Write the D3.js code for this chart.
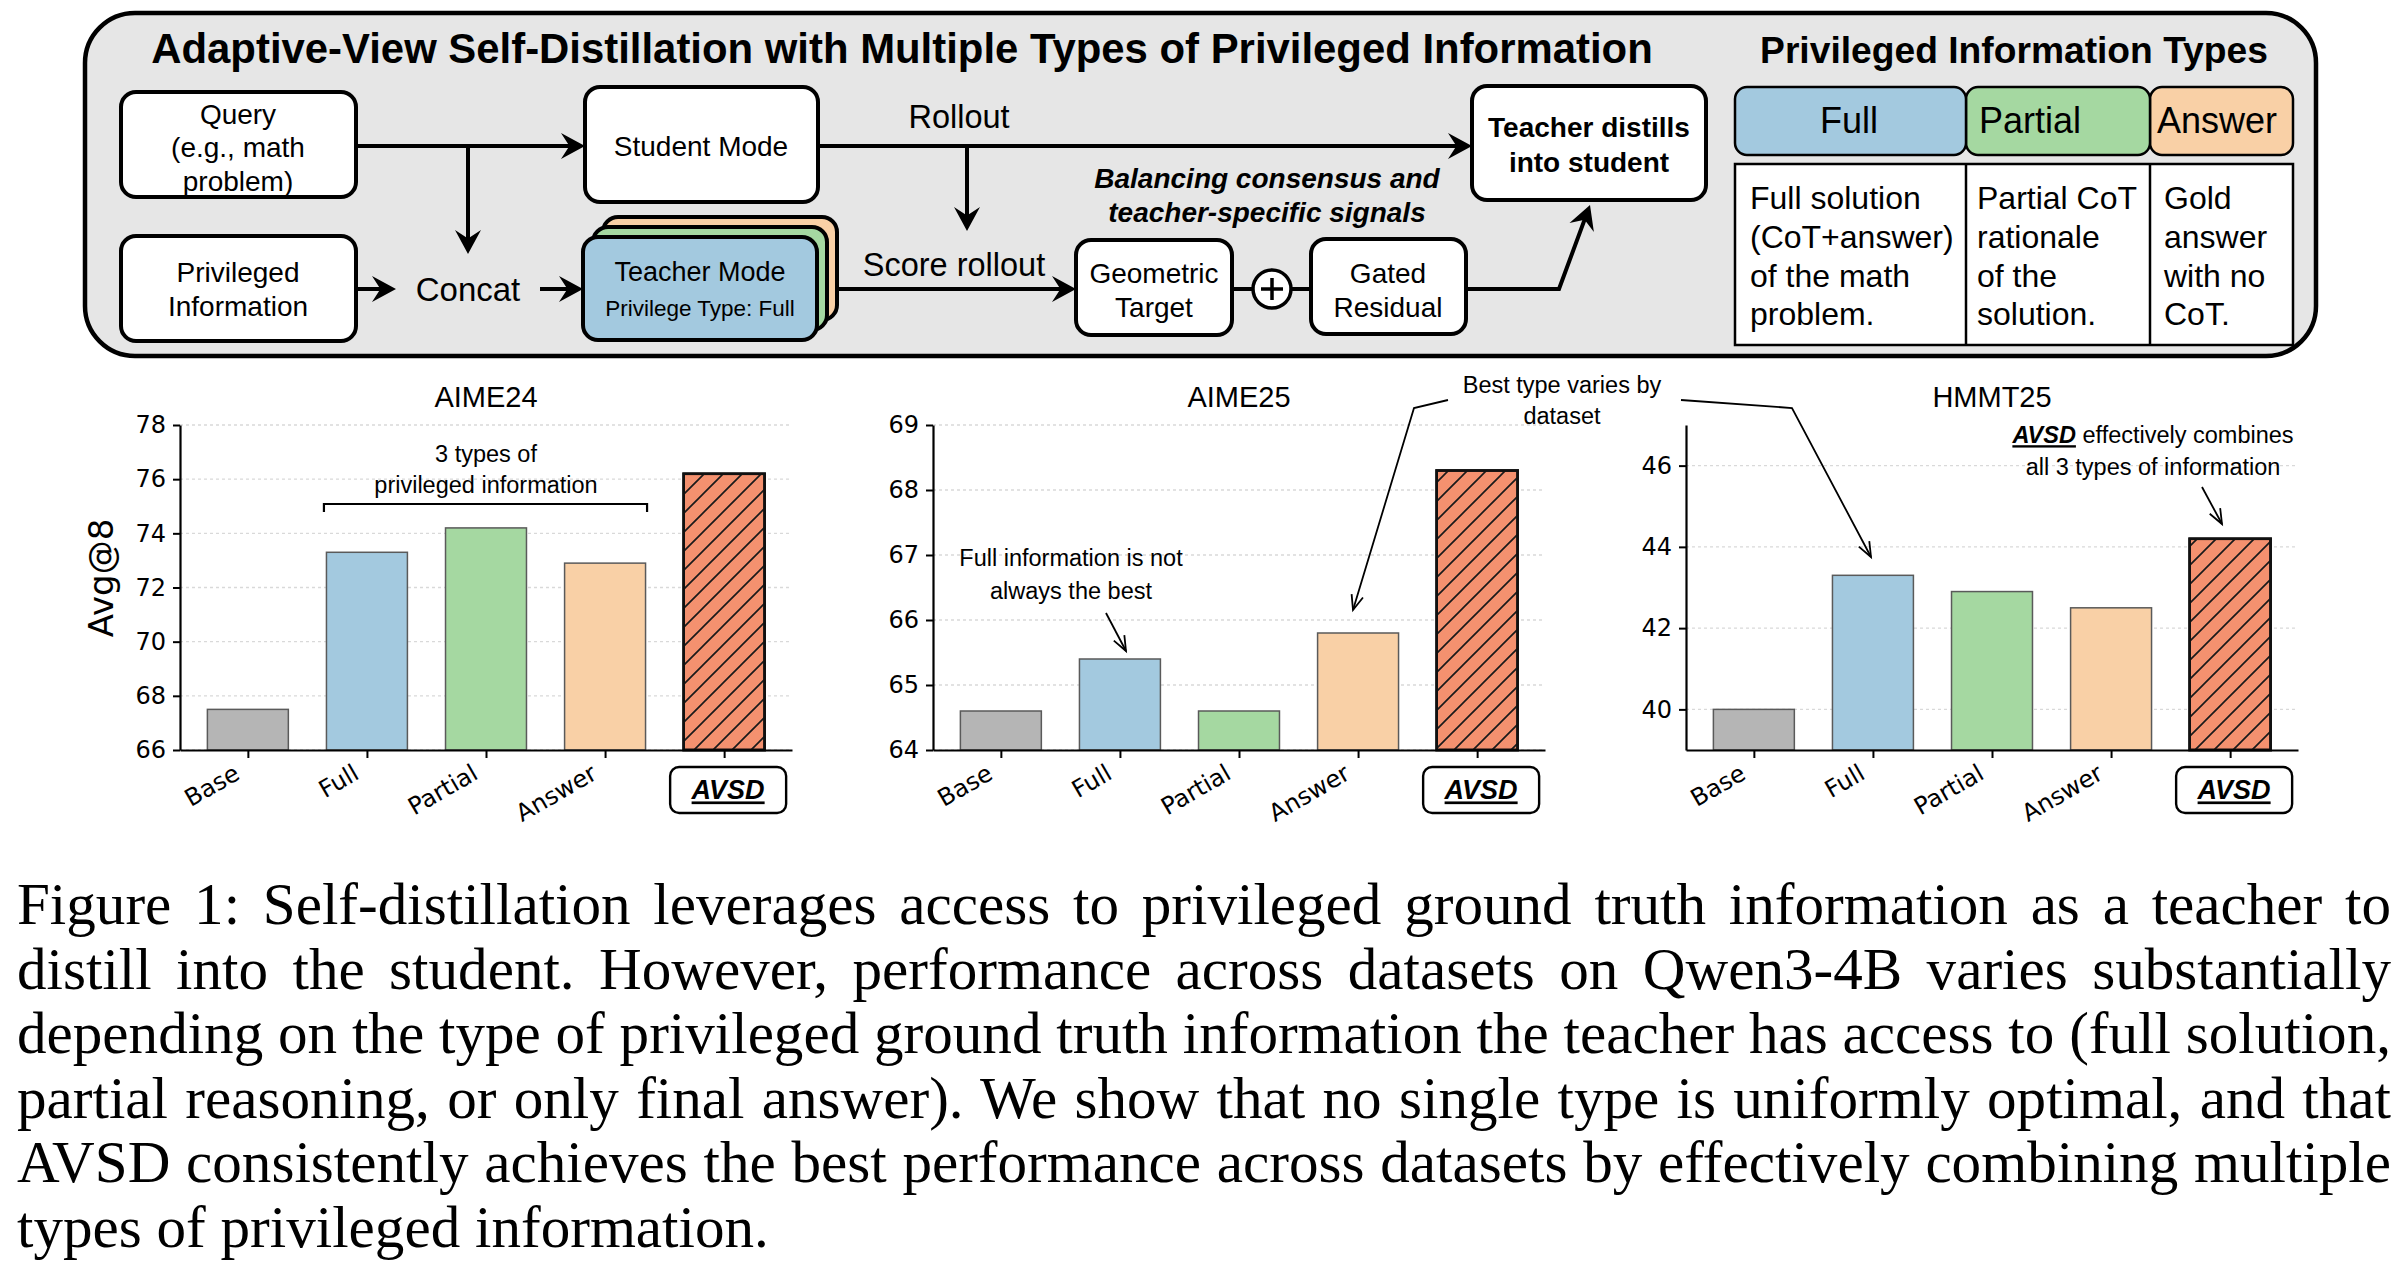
<!DOCTYPE html>
<html><head><meta charset="utf-8">
<script src="https://cdn.jsdelivr.net/npm/d3@7"></script>
<style>body{margin:0;background:#fff}svg{display:block}</style>
</head><body>
<svg id="fig" width="2406" height="1270"></svg>
<script>
// ---------------- DATA ----------------
const categories = ["Base", "Full", "Partial", "Answer", "AVSD"];
const datasets = ["AIME24", "AIME25", "HMMT25"];
const aime24 = [67.5, 73.3, 74.2, 72.9, 76.2];
const aime25 = [64.6, 65.4, 64.6, 65.8, 68.3];
const hmmt25 = [40.0, 43.3, 42.9, 42.5, 44.2];
const seriesValues = [aime24, aime25, hmmt25];
const yDomains = [[66, 78], [64, 69], [39, 47]];
const yTicks = [[66, 68, 70, 72, 74, 76, 78], [64, 65, 66, 67, 68, 69], [40, 42, 44, 46]];
const yLabel = "Avg@8";
const barColors = ["#b5b5b5", "#a3c9df", "#a5d8a1", "#f9d0a6", "#f4916f"];
const infoTypes = ["Full", "Partial", "Answer"];
const infoColors = ["#a3c9df", "#a5d8a1", "#f9d0a6"];
const infoDescriptions = [
  ["Full solution", "(CoT+answer)", "of the math", "problem."],
  ["Partial CoT", "rationale", "of the", "solution."],
  ["Gold", "answer", "with no", "CoT."]
];
const mainTitle = "Adaptive-View Self-Distillation with Multiple Types of Privileged Information";
const panelTitle = "Privileged Information Types";
const captionLines = [
  "Figure 1: Self-distillation leverages access to privileged ground truth information as a teacher to",
  "distill into the student. However, performance across datasets on Qwen3-4B varies substantially",
  "depending on the type of privileged ground truth information the teacher has access to (full solution,",
  "partial reasoning, or only final answer). We show that no single type is uniformly optimal, and that",
  "AVSD consistently achieves the best performance across datasets by effectively combining multiple",
  "types of privileged information."
];

// ---------------- SETUP ----------------
const SANS = "'Liberation Sans', Arial, Helvetica, sans-serif";
const DJV = "'DejaVu Sans', sans-serif";
const SERIF = "'Liberation Serif', 'Times New Roman', serif";
const svg = d3.select("#fig");
const defs = svg.append("defs");

const hp = defs.append("pattern").attr("id", "hatch").attr("patternUnits", "userSpaceOnUse")
  .attr("width", 19).attr("height", 19);
hp.append("path").attr("d", "M-5,5 L5,-5 M0,19 L19,0 M14,24 L24,14")
  .attr("stroke", "#1a1a1a").attr("stroke-width", 1.7).attr("fill", "none");

function fitWidth(sel, target) {
  const w = sel.node().getComputedTextLength();
  const fs = parseFloat(sel.attr("font-size"));
  sel.attr("font-size", fs * target / w);
}
function txt(g, x, y, s, size, opts = {}) {
  const t = g.append("text").attr("x", x).attr("y", y).attr("font-size", size)
    .attr("font-family", opts.family || SANS).attr("text-anchor", opts.anchor || "middle")
    .attr("dy", "0.35em").attr("fill", "#000").text(s);
  if (opts.weight) t.attr("font-weight", opts.weight);
  if (opts.style) t.attr("font-style", opts.style);
  return t;
}
function filledHead(g, x1, y1, x2, y2, len = 24, half = 13) {
  const a = Math.atan2(y2 - y1, x2 - x1);
  const bx = x2 - len * Math.cos(a), by = y2 - len * Math.sin(a);
  const nx = -Math.sin(a), ny = Math.cos(a);
  g.append("path").attr("d", `M${x2},${y2} L${bx + half * nx},${by + half * ny} L${bx + 0.35*len*Math.cos(a)},${by + 0.35*len*Math.sin(a)} L${bx - half * nx},${by - half * ny} Z`)
    .attr("fill", "#000");
}
function arrowLine(g, pts, w = 4) {
  const n = pts.length;
  const a = Math.atan2(pts[n-1][1] - pts[n-2][1], pts[n-1][0] - pts[n-2][0]);
  const p2 = pts.slice(); p2[n-1] = [pts[n-1][0] - 14 * Math.cos(a), pts[n-1][1] - 14 * Math.sin(a)];
  g.append("path").attr("d", d3.line()(p2)).attr("fill", "none").attr("stroke", "#000").attr("stroke-width", w);
  filledHead(g, pts[n-2][0], pts[n-2][1], pts[n-1][0], pts[n-1][1]);
}
function openArrow(g, pts) {
  const n = pts.length;
  g.append("path").attr("d", d3.line()(pts)).attr("fill", "none").attr("stroke", "#000").attr("stroke-width", 1.8);
  const a = Math.atan2(pts[n-1][1] - pts[n-2][1], pts[n-1][0] - pts[n-2][0]);
  const [tx, ty] = pts[n-1], L = 16, s = 0.38;
  g.append("path").attr("d", `M${tx - L*Math.cos(a - s)},${ty - L*Math.sin(a - s)} L${tx},${ty} L${tx - L*Math.cos(a + s)},${ty - L*Math.sin(a + s)}`)
    .attr("fill", "none").attr("stroke", "#000").attr("stroke-width", 1.8);
}
function box(g, x, y, w, h, fill = "#fff", r = 15, sw = 4) {
  return g.append("rect").attr("x", x).attr("y", y).attr("width", w).attr("height", h)
    .attr("rx", r).attr("fill", fill).attr("stroke", "#000").attr("stroke-width", sw);
}

// ---------------- TOP DIAGRAM ----------------
const topG = svg.append("g");
topG.append("rect").attr("x", 85).attr("y", 13).attr("width", 2231).attr("height", 343).attr("rx", 50)
  .attr("fill", "#e6e6e6").attr("stroke", "#000").attr("stroke-width", 4.5);

const t1 = topG.append("text").attr("x", 902).attr("y", 63).attr("text-anchor", "middle")
  .attr("font-family", SANS).attr("font-weight", "bold").attr("font-size", 36).text(mainTitle);
fitWidth(t1, 1502);
const t2 = topG.append("text").attr("x", 2014).attr("y", 63).attr("text-anchor", "middle")
  .attr("font-family", SANS).attr("font-weight", "bold").attr("font-size", 36).text(panelTitle);
fitWidth(t2, 508);

arrowLine(topG, [[356, 146], [585, 146]]);
arrowLine(topG, [[468, 146], [468, 254]]);
arrowLine(topG, [[358, 289], [396, 289]]);
arrowLine(topG, [[540, 289], [583, 289]]);
arrowLine(topG, [[818, 146], [1472, 146]]);
arrowLine(topG, [[967, 146], [967, 231]]);
arrowLine(topG, [[837, 289], [1076, 289]]);
topG.append("line").attr("x1", 1232).attr("x2", 1311).attr("y1", 289).attr("y2", 289).attr("stroke", "#000").attr("stroke-width", 4);
arrowLine(topG, [[1466, 289], [1559, 289], [1590, 205]]);

box(topG, 121, 92, 235, 105);
txt(topG, 238, 114, "Query", 28); txt(topG, 238, 147.5, "(e.g., math", 28); txt(topG, 238, 181, "problem)", 28);
box(topG, 585, 87, 233, 115);
txt(topG, 701, 146, "Student Mode", 28);
box(topG, 121, 236, 235, 105);
txt(topG, 238, 272, "Privileged", 28); txt(topG, 238, 306, "Information", 28);
txt(topG, 468, 289, "Concat", 33);

box(topG, 603, 217, 234, 103, "#f9d0a6", 15);
box(topG, 593, 227, 234, 103, "#a5d8a1", 15);
box(topG, 583, 237, 234, 103, "#a3c9df", 15);
txt(topG, 700, 272, "Teacher Mode", 27); txt(topG, 700, 308, "Privilege Type: Full", 22.5);

txt(topG, 959, 117, "Rollout", 32.5);
txt(topG, 954, 265, "Score rollout", 32.5);
txt(topG, 1267, 178, "Balancing consensus and", 28, {weight: "bold", style: "italic"});
txt(topG, 1267, 212, "teacher-specific signals", 28, {weight: "bold", style: "italic"});

box(topG, 1076, 240, 156, 95);
txt(topG, 1154, 273, "Geometric", 28); txt(topG, 1154, 307, "Target", 28);
topG.append("circle").attr("cx", 1272).attr("cy", 289).attr("r", 19).attr("fill", "#fff").attr("stroke", "#000").attr("stroke-width", 3.5);
topG.append("path").attr("d", "M1261,289 H1283 M1272,278 V300").attr("stroke", "#000").attr("stroke-width", 3.5);
box(topG, 1311, 239, 155, 95);
txt(topG, 1388, 273, "Gated", 28); txt(topG, 1388, 307, "Residual", 28);
box(topG, 1472, 86, 234, 114);
txt(topG, 1589, 127, "Teacher distills", 28, {weight: "bold"});
txt(topG, 1589, 162, "into student", 28, {weight: "bold"});

const colX = [1735, 1966, 2150, 2293];
for (let k = 2; k >= 0; k--) {
  topG.append("rect").attr("x", colX[k]).attr("y", 87).attr("width", colX[k+1] - colX[k]).attr("height", 68)
    .attr("rx", 12).attr("fill", infoColors[k]).attr("stroke", "#000").attr("stroke-width", 2.5);
}
txt(topG, 1849, 120, infoTypes[0], 36);
txt(topG, 1979, 120, infoTypes[1], 36, {anchor: "start"});
txt(topG, 2157, 120, infoTypes[2], 36, {anchor: "start"});
topG.append("rect").attr("x", 1735).attr("y", 164).attr("width", 558).attr("height", 181)
  .attr("fill", "#fff").attr("stroke", "#000").attr("stroke-width", 2.5);
[1966, 2150].forEach(xx => topG.append("line").attr("x1", xx).attr("x2", xx).attr("y1", 164).attr("y2", 345).attr("stroke", "#000").attr("stroke-width", 2.5));
const descX = [1750, 1977, 2164];
infoDescriptions.forEach((lines, k) => lines.forEach((s, j) => txt(topG, descX[k], 198 + j * 38.7, s, 32, {anchor: "start"})));

// ---------------- CHARTS ----------------
const plotTop = 425, plotBottom = 750, plotW = 612;
const lefts = [180, 933, 1686];
datasets.forEach((name, i) => {
  const L = lefts[i];
  const x = d3.scaleLinear().domain([-0.57, 4.57]).range([L, L + plotW]);
  const y = d3.scaleLinear().domain(yDomains[i]).range([plotBottom, plotTop]);
  const bw = 0.68 * (x(1) - x(0));
  const g = svg.append("g");

  g.selectAll("line.grid").data(yTicks[i]).join("line").attr("class", "grid")
    .attr("x1", L).attr("x2", L + plotW).attr("y1", d => y(d)).attr("y2", d => y(d))
    .attr("stroke", "#d9d9d9").attr("stroke-width", 1.4).attr("stroke-dasharray", "3,3");

  const vals = seriesValues[i];
  g.selectAll("rect.bar").data(vals).join("rect").attr("class", "bar")
    .attr("x", (d, j) => x(j) - bw / 2).attr("width", bw)
    .attr("y", d => y(d)).attr("height", d => plotBottom - y(d))
    .attr("fill", (d, j) => barColors[j])
    .attr("stroke", (d, j) => j === 4 ? "#111" : "#5a5a5a")
    .attr("stroke-width", (d, j) => j === 4 ? 2.6 : 1.5);
  g.append("rect").attr("x", x(4) - bw / 2).attr("width", bw).attr("y", y(vals[4])).attr("height", plotBottom - y(vals[4]))
    .attr("fill", "url(#hatch)").attr("stroke", "#111").attr("stroke-width", 2.6);

  const ay = g.append("g").attr("transform", `translate(${L},0)`)
    .call(d3.axisLeft(y).tickValues(yTicks[i]).tickSize(7).tickSizeOuter(0).tickPadding(7).tickFormat(d3.format("d")));
  ay.select(".domain").attr("stroke-width", 2.2);
  ay.selectAll(".tick line").attr("stroke-width", 2);
  ay.selectAll("text").attr("font-family", DJV).attr("font-size", 24).attr("fill", "#000");

  const ax = g.append("g").attr("transform", `translate(0,${plotBottom})`)
    .call(d3.axisBottom(x).tickValues([0, 1, 2, 3, 4]).tickSize(8).tickSizeOuter(0).tickFormat(j => categories[j]));
  ax.select(".domain").attr("stroke-width", 2.2);
  ax.selectAll(".tick line").attr("stroke-width", 2);
  ax.selectAll("text").attr("font-family", DJV).attr("font-size", 24).attr("fill", "#000")
    .attr("x", 0).attr("y", 0).attr("dy", 0).attr("text-anchor", "end")
    .attr("transform", "translate(-7,28) rotate(-30)")
    .style("display", (d) => d === 4 ? "none" : null);

  const cx = x(4) + 4;
  g.append("rect").attr("x", cx - 58).attr("y", 767).attr("width", 116).attr("height", 46).attr("rx", 9)
    .attr("fill", "#fff").attr("stroke", "#000").attr("stroke-width", 2.4);
  g.append("text").attr("x", cx).attr("y", 790).attr("dy", "0.35em").attr("text-anchor", "middle")
    .attr("font-family", SANS).attr("font-weight", "bold").attr("font-style", "italic").attr("font-size", 27)
    .attr("text-decoration", "underline").text(categories[4]);

  g.append("text").attr("x", L + plotW / 2).attr("y", 397).attr("dy", "0.35em").attr("text-anchor", "middle")
    .attr("font-family", SANS).attr("font-size", 29).text(name);

  if (i === 0) {
    g.append("text").attr("transform", `translate(101,578) rotate(-90)`)
      .attr("text-anchor", "middle").attr("dy", "0.35em").attr("font-family", DJV).attr("font-size", 34).text(yLabel);
    txt(g, x(2), 454, "3 types of", 23.5);
    txt(g, x(2), 485, "privileged information", 23.5);
    g.append("path").attr("d", `M${x(1) - 43},512 V504 H${x(3) + 42} V512`).attr("fill", "none").attr("stroke", "#000").attr("stroke-width", 2.2);
  }
  if (i === 1) {
    txt(g, 1071, 558, "Full information is not", 23.5);
    txt(g, 1071, 591, "always the best", 23.5);
    openArrow(g, [[1106, 613], [1126, 651]]);
  }
  if (i === 2) {
    const a1 = g.append("text").attr("x", 2153).attr("y", 435).attr("dy", "0.35em").attr("text-anchor", "middle")
      .attr("font-family", SANS).attr("font-size", 23.5);
    a1.append("tspan").attr("font-weight", "bold").attr("font-style", "italic").attr("text-decoration", "underline").text("AVSD");
    a1.append("tspan").text(" effectively combines");
    txt(g, 2153, 467, "all 3 types of information", 23.5);
    openArrow(g, [[2202, 487], [2222, 524]]);
  }
});

const ann = svg.append("g");
txt(ann, 1562, 385, "Best type varies by", 23.5);
txt(ann, 1562, 416, "dataset", 23.5);
openArrow(ann, [[1448, 400], [1414, 408], [1353, 610]]);
openArrow(ann, [[1681, 400], [1792, 408], [1871, 557]]);

// ---------------- CAPTION ----------------
const cap = svg.append("g").attr("font-family", SERIF).attr("fill", "#000");
const last = cap.append("text").attr("x", 17).attr("y", 924 + 5 * 64.5).attr("font-size", 56).text(captionLines[5]);
fitWidth(last, 752);
const capSize = parseFloat(last.attr("font-size"));
captionLines.slice(0, 5).forEach((line, k) => {
  const t = cap.append("text").attr("x", 17).attr("y", 924 + k * 64.5).attr("font-size", capSize).text(line);
  const w = t.node().getComputedTextLength();
  const n = (line.match(/ /g) || []).length;
  t.attr("word-spacing", (2374 - w) / n);
});
</script>
</body></html>
